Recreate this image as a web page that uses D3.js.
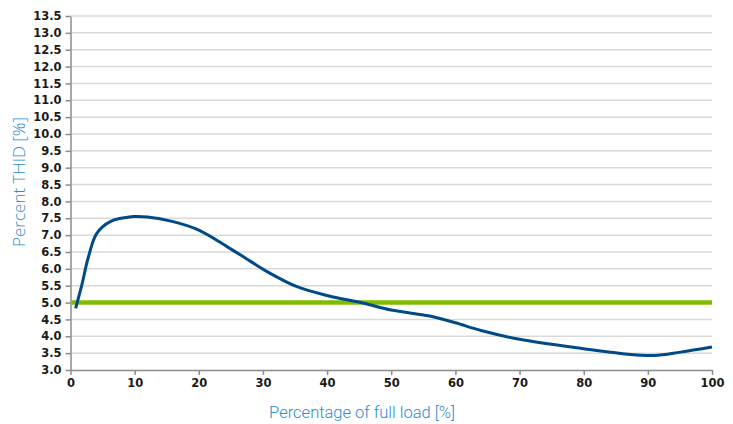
<html>
<head>
  <style>
    body { margin: 0; background: #fff; }
    svg .grid line { stroke: #d9d9d9; stroke-width: 1.5px; }
    svg .axis path, svg .axis line { stroke: #8c8c8c; stroke-width: 1.5px; }
    svg .axis text { font: bold 11.5px "DejaVu Sans", sans-serif; fill: #1a1a1a; }
    svg .xlabel { font: 300 16.5px Roboto, sans-serif; fill: #2d8ccb; }
    svg .ylabel { font: 300 17px "Open Sans", sans-serif; fill: #2d8ccb; }
  </style>
</head>
<body>
  <div id="chart"></div>
  <script src="https://cdn.jsdelivr.net/npm/d3@7"></script>
  <script>
    // THID curve: load [%] and THID [%]
    var loadPct = [0.8, 1.7, 2.8, 4.1, 6.2, 9.8, 12, 16, 20, 24.4, 28, 31, 35.3, 40, 45.7, 50, 56, 60, 64, 70, 80, 85.8, 91, 95.1, 100];
    var thid    = [4.83, 5.47, 6.36, 7.05, 7.40, 7.55, 7.54, 7.40, 7.15, 6.66, 6.23, 5.88, 5.47, 5.21, 4.98, 4.78, 4.60, 4.40, 4.17, 3.91, 3.63, 3.49, 3.43, 3.53, 3.68];
    var limit   = [5.0];   // green limit line
    var xTicks  = [0, 10, 20, 30, 40, 50, 60, 70, 80, 90, 100];
    var yTicks  = d3.range(3, 13.51, 0.5);

    var W = 733, H = 424;
    var mLeft = 70.5, mRight = 712, mTop = 16, mBottom = 370;

    var svg = d3.select("#chart").append("svg")
      .attr("width", W)
      .attr("height", H);

    var xScale = d3.scaleLinear().domain([0, 100]).range([mLeft, mRight]);
    var yScale = d3.scaleLinear().domain([3, 13.5]).range([mBottom, mTop]);

    // horizontal grid lines
    svg.append("g")
        .classed("grid", true)
      .selectAll("line")
      .data(yTicks.filter(function (d) { return d > 3; }))
      .enter().append("line")
        .attr("x1", mLeft)
        .attr("x2", mRight)
        .attr("y1", function (d) { return yScale(d); })
        .attr("y2", function (d) { return yScale(d); });

    // x axis
    svg.append("g")
        .classed("axis", true)
        .attr("transform", "translate(0," + mBottom + ")")
        .call(d3.axisBottom(xScale).tickValues(xTicks).tickSize(5).tickSizeOuter(0).tickPadding(4));

    // y axis
    svg.append("g")
        .classed("axis", true)
        .attr("transform", "translate(" + mLeft + ",0)")
        .call(d3.axisLeft(yScale).tickValues(yTicks).tickFormat(d3.format(".1f")).tickSize(5).tickSizeOuter(0).tickPadding(4));

    // limit line
    svg.append("g")
      .selectAll("line")
      .data(limit)
      .enter().append("line")
        .attr("x1", mLeft + 1)
        .attr("x2", mRight)
        .attr("y1", function (d) { return yScale(d); })
        .attr("y2", function (d) { return yScale(d); })
        .style("stroke", "#80bc00")
        .style("stroke-width", "4.5px");

    // THID curve
    var line = d3.line()
      .x(function (d, i) { return xScale(loadPct[i]); })
      .y(function (d) { return yScale(d); })
      .curve(d3.curveCatmullRom.alpha(0.5));

    svg.append("path")
      .attr("d", line(thid))
      .style("fill", "none")
      .style("stroke", "#004a87")
      .style("stroke-width", "3px");

    // axis labels
    svg.append("text")
      .classed("xlabel", true)
      .attr("x", 362)
      .attr("y", 418)
      .attr("text-anchor", "middle")
      .text("Percentage of full load [%]");

    svg.append("text")
      .classed("ylabel", true)
      .attr("transform", "translate(25,182) rotate(-90)")
      .attr("text-anchor", "middle")
      .text("Percent THID [%]");
  </script>
</body>
</html>
